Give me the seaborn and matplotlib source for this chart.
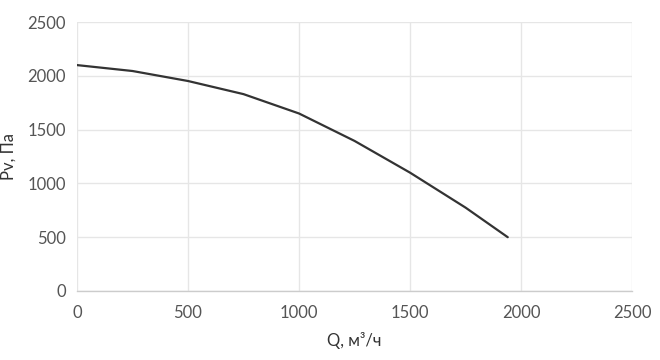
import matplotlib
matplotlib.use("Agg")
import matplotlib.pyplot as plt
import seaborn as sns
import pandas as pd

q_values = [0, 250, 500, 750, 1000, 1250, 1500, 1750, 1940]
p_values = [2100, 2045, 1952, 1830, 1650, 1395, 1100, 775, 500]
x_ticks = [0, 500, 1000, 1500, 2000, 2500]
y_ticks = [0, 500, 1000, 1500, 2000, 2500]

sns.set_theme(style="white")
plt.rcParams['font.family'] = ['Lato', 'DejaVu Sans']

df = pd.DataFrame({"Q": q_values, "P": p_values})

fig = plt.figure(figsize=(6.6, 3.6), dpi=100)
ax = fig.add_axes([0.1167, 0.1917, 0.841, 0.747])
sns.lineplot(data=df, x="Q", y="P", ax=ax, color="#333333", linewidth=1.6)

ax.set_xlim(0, 2500)
ax.set_ylim(0, 2500)
ax.set_xticks(x_ticks)
ax.set_yticks(y_ticks)
ax.grid(True, color="#e6e6e6", linewidth=1)
ax.set_axisbelow(True)
for s in ["top", "right", "left"]:
    ax.spines[s].set_visible(False)
ax.spines["bottom"].set_color("#cccccc")
ax.spines["bottom"].set_linewidth(1)
ax.tick_params(axis="both", length=0, labelsize=12, colors="#555555")
ax.tick_params(axis="x", pad=10)
ax.tick_params(axis="y", pad=8)
ax.set_xlabel("Q, м³/ч", fontsize=12, color="#333333", labelpad=8)
ax.set_ylabel("Pv, Па", fontsize=12, color="#333333", labelpad=8)

fig.savefig("out.png", dpi=100)
